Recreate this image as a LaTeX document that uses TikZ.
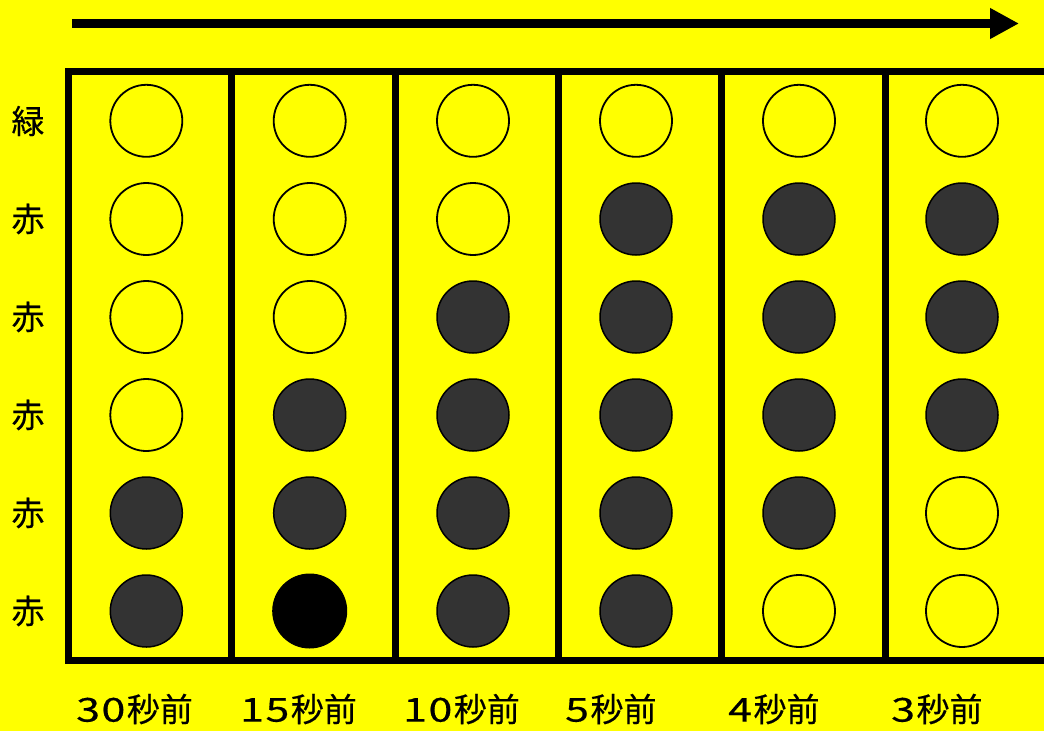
\documentclass[tikz,border=0pt]{standalone}
\usepackage{fontspec}
\newfontfamily\jp[FakeBold=0.35]{Noto Sans CJK JP}
\usetikzlibrary{arrows.meta}
\definecolor{bgyellow}{RGB}{255,255,0}
\definecolor{lampdark}{RGB}{51,51,51}
\newcommand\widedig[1]{\scalebox{1.3}[1]{#1}\kern1.5pt}
\tikzset{
  grid/.style={line width=7pt, draw=black},
  lampoff/.style={circle, draw=black, line width=1.8pt, minimum size=72pt, inner sep=0pt, fill=bgyellow},
  lampon/.style={circle, draw=black, line width=1.5pt, minimum size=72pt, inner sep=0pt, fill=lampdark},
  lampblack/.style={circle, draw=black, line width=1pt, minimum size=74pt, inner sep=0pt, fill=black},
  rowlabel/.style={font=\jp\fontsize{33}{33}\selectfont, inner sep=0pt},
  collabel/.style={font=\jp\fontsize{33}{33}\selectfont, inner sep=0pt, anchor=west},
}
\begin{document}
\begin{tikzpicture}[x=1pt,y=-1pt]
\useasboundingbox (0,0) rectangle (1044,731);
\fill[bgyellow] (0,0) rectangle (1044,731);
% arrow
\coordinate (as) at (72,23.5);
\coordinate (ae) at (1019,23.5);
\draw[line width=9pt, -{Triangle[length=29pt,width=29pt]}] (as) -- (ae);
% grid
\draw[grid] (1050,71.5) -- (68.5,71.5) -- (68.5,660) -- (1050,660);
\foreach \x in {231.5,395,558.5,721.5,885} {
  \draw[grid] (\x,71.5) -- (\x,660);
}
% column 1
\node[lampoff] (c1r1) at (146.3,120.8) {};
\node[lampoff] (c1r2) at (146.3,219) {};
\node[lampoff] (c1r3) at (146.3,317) {};
\node[lampoff] (c1r4) at (146.3,415) {};
\node[lampon]  (c1r5) at (146.3,513) {};
\node[lampon]  (c1r6) at (146.3,611) {};
% column 2
\node[lampoff] (c2r1) at (309.7,120.8) {};
\node[lampoff] (c2r2) at (309.7,219) {};
\node[lampoff] (c2r3) at (309.7,317) {};
\node[lampon]  (c2r4) at (309.7,415) {};
\node[lampon]  (c2r5) at (309.7,513) {};
\node[lampblack] (c2r6) at (309.7,611) {};
% column 3
\node[lampoff] (c3r1) at (473,120.8) {};
\node[lampoff] (c3r2) at (473,219) {};
\node[lampon]  (c3r3) at (473,317) {};
\node[lampon]  (c3r4) at (473,415) {};
\node[lampon]  (c3r5) at (473,513) {};
\node[lampon]  (c3r6) at (473,611) {};
% column 4
\node[lampoff] (c4r1) at (636,120.8) {};
\node[lampon]  (c4r2) at (636,219) {};
\node[lampon]  (c4r3) at (636,317) {};
\node[lampon]  (c4r4) at (636,415) {};
\node[lampon]  (c4r5) at (636,513) {};
\node[lampon]  (c4r6) at (636,611) {};
% column 5
\node[lampoff] (c5r1) at (799,120.8) {};
\node[lampon]  (c5r2) at (799,219) {};
\node[lampon]  (c5r3) at (799,317) {};
\node[lampon]  (c5r4) at (799,415) {};
\node[lampon]  (c5r5) at (799,513) {};
\node[lampoff] (c5r6) at (799,611) {};
% column 6
\node[lampoff] (c6r1) at (962,120.8) {};
\node[lampon]  (c6r2) at (962,219) {};
\node[lampon]  (c6r3) at (962,317) {};
\node[lampon]  (c6r4) at (962,415) {};
\node[lampoff] (c6r5) at (962,513) {};
\node[lampoff] (c6r6) at (962,611) {};
% row labels
\node[rowlabel] (l1) at (28,121) {緑};
\node[rowlabel] (l2) at (28,219) {赤};
\node[rowlabel] (l3) at (28,317) {赤};
\node[rowlabel] (l4) at (28,415) {赤};
\node[rowlabel] (l5) at (28,513) {赤};
\node[rowlabel] (l6) at (28,611) {赤};
% column labels
\node[collabel] (t1) at (76,709) {\widedig{3}\widedig{0}秒前};
\node[collabel] (t2) at (240,709) {\widedig{1}\widedig{5}秒前};
\node[collabel] (t3) at (403,709) {\widedig{1}\widedig{0}秒前};
\node[collabel] (t4) at (565,709) {\widedig{5}秒前};
\node[collabel] (t5) at (728,709) {\widedig{4}秒前};
\node[collabel] (t6) at (891,709) {\widedig{3}秒前};
\end{tikzpicture}
\end{document}
